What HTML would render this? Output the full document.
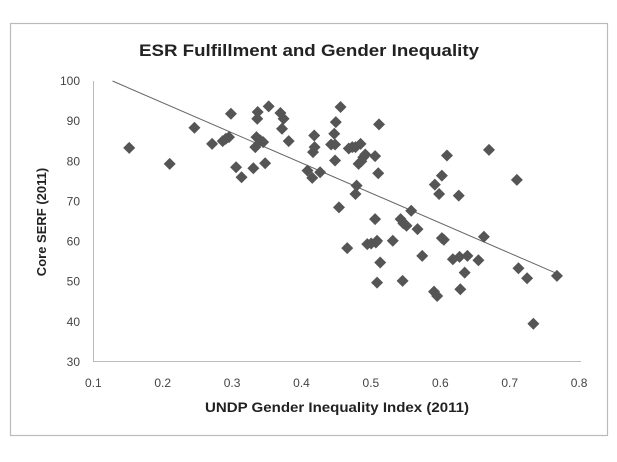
<!DOCTYPE html>
<html><head><meta charset="utf-8"><style>
html,body{margin:0;padding:0;background:#fff;}
svg{display:block;}
text{font-family:"Liberation Sans",sans-serif;fill:#444;}
</style></head><body>
<svg id="s" width="617" height="462" xmlns="http://www.w3.org/2000/svg">
<rect x="0" y="0" width="617" height="462" fill="#fff"/>
<rect x="10.5" y="23.5" width="597" height="412" fill="#fff" stroke="#bbb" stroke-width="1.2"/>
<text x="309" y="56" text-anchor="middle" font-size="17" font-weight="bold" textLength="340" lengthAdjust="spacingAndGlyphs" style="fill:#222">ESR Fulfillment and Gender Inequality</text>
<line x1="93.5" y1="81" x2="93.5" y2="362" stroke="#bbb"/>
<line x1="93" y1="361.5" x2="581" y2="361.5" stroke="#bbb"/>
<g font-size="12" text-anchor="end" id="yt"></g>
<g font-size="12" text-anchor="middle" id="xt"></g>
<text x="337" y="412" text-anchor="middle" font-size="14" font-weight="bold" textLength="264" lengthAdjust="spacingAndGlyphs" style="fill:#222">UNDP Gender Inequality Index (2011)</text>
<text transform="translate(46,222) rotate(-90)" text-anchor="middle" font-size="13" font-weight="bold" style="fill:#222">Core SERF (2011)</text>
<line x1="112.5" y1="81" x2="557" y2="273.6" stroke="#666" stroke-width="1"/>
<g id="pts" fill="#555"></g>
</svg>
<script>
var ns="http://www.w3.org/2000/svg";
var yt=document.getElementById('yt'),xt=document.getElementById('xt'),pts=document.getElementById('pts');
for(var v=30;v<=100;v+=10){var t=document.createElementNS(ns,'text');t.setAttribute('x',80);t.setAttribute('y',81+(100-v)*4.014+4);t.textContent=v;yt.appendChild(t);}
for(var i=1;i<=8;i++){var t=document.createElementNS(ns,'text');t.setAttribute('x',93.3+(i-1)*69.4);t.setAttribute('y',387);t.textContent='0.'+i;xt.appendChild(t);}
var P=[[329,442],[432,490],[495,382],[540,430],[567,422],[575,415],[583,410],[588,340],[601,500],[615,530],[645,503],[653,410],[650,440],[656,335],[655,355],[663,420],[670,425],[675,488],[684,318],[714,338],[718,385],[722,355],[735,422],[783,510],[795,532],[797,455],[800,405],[801,440],[815,515],[843,432],[853,432],[851,400],[853,480],[855,365],[867,320],[863,620],[884,742],[888,444],[897,440],[905,440],[905,580],[908,555],[913,490],[918,430],[920,482],[925,470],[930,462],[935,730],[945,728],[955,655],[957,725],[960,720],[955,467],[960,845],[963,518],[965,372],[968,785],[1000,720],[1025,840],[1020,655],[1027,668],[1035,675],[1047,630],[1063,685],[1075,765],[1105,872],[1113,885],[1107,552],[1118,580],[1125,525],[1125,712],[1130,717],[1138,465],[1153,775],[1168,585],[1170,768],[1172,865],[1183,815],[1190,765],[1218,778],[1232,708],[1245,448],[1316,538],[1320,802],[1342,832],[1358,968],[1418,825]];
P.forEach(function(p){var x=p[0]/2.546,y=p[1]/2.99;var e=document.createElementNS(ns,'polygon');e.setAttribute('points',(x)+','+(y-6)+' '+(x+6)+','+y+' '+x+','+(y+6)+' '+(x-6)+','+y);pts.appendChild(e);});
</script>
</body></html>
